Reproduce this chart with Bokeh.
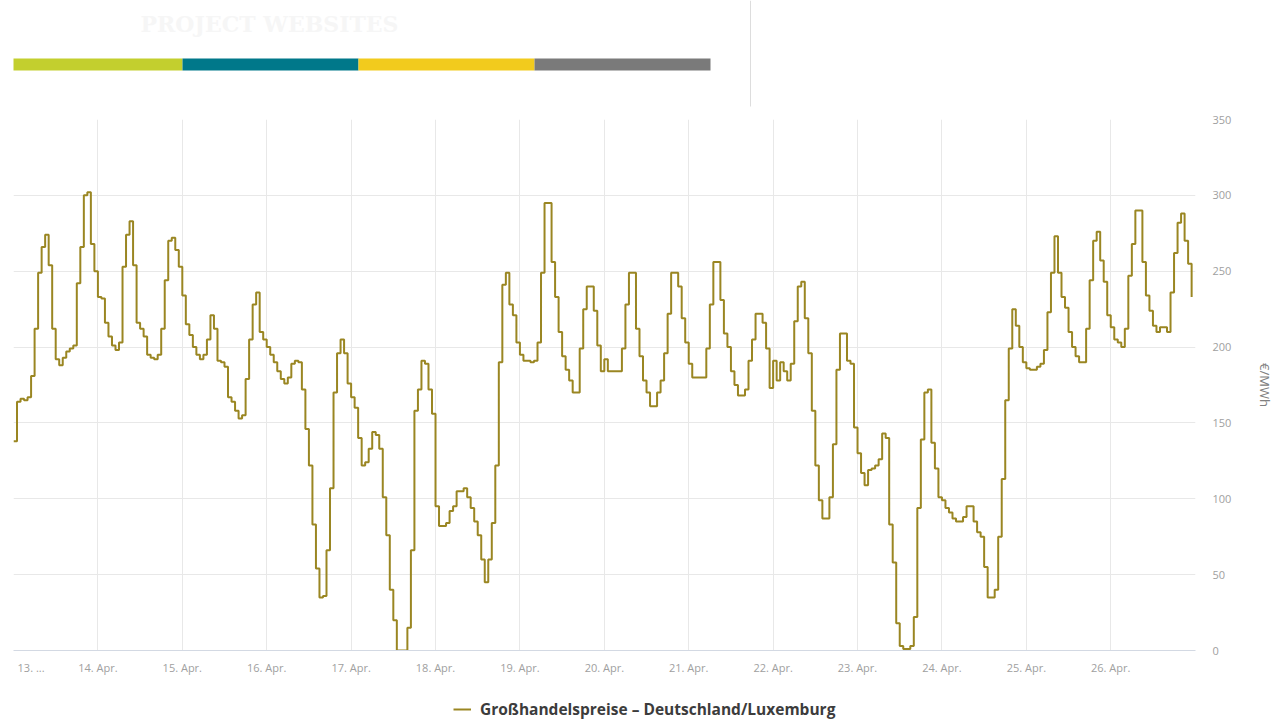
from bokeh.plotting import figure
from bokeh.models import Range1d, FixedTicker, Legend, LegendItem
from bokeh.layouts import column
from bokeh.embed import file_html
from bokeh.resources import INLINE
from bokeh.core.properties import value

# ---------------- data ----------------
day_labels = ["13. ...", "14. Apr.", "15. Apr.", "16. Apr.", "17. Apr.", "18. Apr.", "19. Apr.",
              "20. Apr.", "21. Apr.", "22. Apr.", "23. Apr.", "24. Apr.", "25. Apr.", "26. Apr."]

apr13 = [138, 164, 166, 165, 167, 181, 212, 249, 266, 274, 254, 212, 192, 188, 193, 197, 199, 201, 242, 266, 300, 302, 268, 250]
apr14 = [233, 232, 216, 207, 201, 198, 203, 253, 274, 283, 254, 216, 212, 207, 195, 193, 192, 195, 212, 244, 270, 272, 264, 253]
apr15 = [234, 215, 208, 200, 195, 192, 195, 205, 221, 212, 191, 190, 187, 167, 164, 158, 153, 155, 179, 205, 228, 236, 210, 205]
apr16 = [200, 195, 190, 184, 179, 176, 180, 189, 191, 190, 172, 146, 122, 83, 54, 35, 36, 66, 107, 170, 196, 205, 196, 176]
apr17 = [167, 160, 140, 122, 124, 133, 144, 142, 133, 101, 76, 40, 20, 0, 0, 0, 15, 66, 158, 172, 191, 189, 172, 156]
apr18 = [95, 82, 82, 84, 92, 95, 105, 105, 107, 101, 94, 85, 76, 60, 45, 60, 84, 122, 190, 241, 249, 228, 221, 203]
apr19 = [195, 191, 191, 190, 191, 203, 249, 295, 295, 256, 233, 210, 194, 185, 178, 170, 170, 199, 225, 240, 240, 224, 201, 184]
apr20 = [192, 184, 184, 184, 184, 199, 228, 249, 249, 212, 194, 178, 170, 161, 161, 170, 178, 196, 222, 249, 249, 240, 219, 203]
apr21 = [189, 180, 180, 180, 180, 199, 228, 256, 256, 231, 209, 200, 184, 175, 168, 168, 172, 191, 205, 222, 222, 216, 199, 173]
apr22 = [191, 178, 190, 184, 178, 189, 217, 240, 243, 219, 196, 158, 122, 99, 87, 87, 101, 136, 185, 209, 209, 191, 189, 147]
apr23 = [130, 117, 109, 119, 120, 122, 126, 143, 140, 83, 58, 18, 3, 1, 1, 3, 22, 94, 139, 170, 172, 137, 120, 101]
apr24 = [99, 94, 91, 87, 85, 85, 88, 95, 95, 85, 78, 75, 55, 35, 35, 40, 75, 113, 165, 199, 225, 214, 200, 190]
apr25 = [186, 185, 185, 187, 189, 198, 223, 249, 273, 249, 233, 226, 210, 200, 194, 190, 190, 212, 244, 270, 276, 257, 243, 221]
apr26 = [213, 205, 203, 200, 212, 247, 268, 290, 290, 256, 234, 224, 214, 210, 213, 213, 210, 236, 262, 282, 288, 270, 255, 233]

y_ticks = [0, 50, 100, 150, 200, 250, 300, 350]
series_name = "Großhandelspreise – Deutschland/Luxemburg"
unit_label = "€/MWh"
header_title = "PROJECT WEBSITES"
header_colors = ["#c3cf2e", "#00788a", "#f2cb1d", "#7a7a7a"]

days = [apr13, apr14, apr15, apr16, apr17, apr18, apr19, apr20, apr21, apr22, apr23, apr24, apr25, apr26]
prices = [v for d in days for v in d]
hours = list(range(len(prices)))

# ---------------- layout constants ----------------
W = 1279
FRAME_L, FRAME_R = 13, 1195
HEADER_H = 111
MAIN_TOP, MAIN_FRAME_H, MAIN_BOTTOM = 8, 531, 30
LEG_H = 720 - HEADER_H - (MAIN_TOP + MAIN_FRAME_H + MAIN_BOTTOM)
FONT = "Open Sans"
TICK_COLOR = "#a0a0a0"
GRID_COLOR = "#e8e8e8"
LINE_COLOR = "#9a8622"

# ---------------- header ----------------
header = figure(width=W, height=HEADER_H, x_range=Range1d(FRAME_L, FRAME_R), y_range=Range1d(HEADER_H, 0),
                toolbar_location=None, output_backend="svg", min_border=0,
                x_axis_type=None, y_axis_type=None, outline_line_color=None)
seg_w = 176
lefts = [6 + i * seg_w for i in range(len(header_colors))]
rights = [l + seg_w for l in lefts]
header.quad(left=lefts, right=rights, top=58, bottom=70, color=header_colors, line_color=None)
header.segment(x0=[750], y0=[0], x1=[750], y1=[106], line_color="#dddddd", line_width=1)
header.text(x=[140], y=[23], text=[header_title], text_font=value("DejaVu Serif"),
            text_font_style="bold", text_font_size="22px", text_color="#f6f6f6",
            text_baseline="middle")

# ---------------- main chart ----------------
n_days = len(day_labels)
p = figure(frame_width=FRAME_R - FRAME_L, frame_height=MAIN_FRAME_H,
           x_range=Range1d(0, n_days * 24 + 0.1), y_range=Range1d(y_ticks[0], y_ticks[-1]),
           y_axis_location="right", toolbar_location=None, output_backend="svg",
           min_border_left=FRAME_L, min_border_top=MAIN_TOP, min_border_right=W - FRAME_R,
           min_border_bottom=MAIN_BOTTOM, outline_line_color=None)

r = p.step(hours, prices, mode="after", line_color=LINE_COLOR, line_width=2)

# grids
p.xgrid.ticker = FixedTicker(ticks=[d * 24 for d in range(n_days)])
p.ygrid.ticker = FixedTicker(ticks=y_ticks)
p.xgrid.grid_line_color = GRID_COLOR
p.ygrid.grid_line_color = GRID_COLOR

# x axis
first_pos = 5
x_tick_pos = [first_pos] + [d * 24 for d in range(1, n_days)]
p.xaxis.ticker = FixedTicker(ticks=x_tick_pos)
p.xaxis.major_label_overrides = {pos: lbl for pos, lbl in zip(x_tick_pos, day_labels)}
p.xaxis.axis_line_color = "#d3d9e3"
p.xaxis.major_tick_line_color = None
p.xaxis.major_tick_out = 0
p.xaxis.major_tick_in = 0
p.xaxis.minor_tick_line_color = None
p.xaxis.major_label_text_font = FONT
p.xaxis.major_label_text_font_size = "11px"
p.xaxis.major_label_text_color = TICK_COLOR
p.xaxis.major_label_standoff = 9

# y axis (right)
p.yaxis.ticker = FixedTicker(ticks=y_ticks)
p.yaxis.axis_line_color = None
p.yaxis.major_tick_line_color = None
p.yaxis.major_tick_out = 0
p.yaxis.major_tick_in = 0
p.yaxis.minor_tick_line_color = None
p.yaxis.major_label_text_font = FONT
p.yaxis.major_label_text_font_size = "11px"
p.yaxis.major_label_text_color = TICK_COLOR
p.yaxis.major_label_text_align = "center"
p.yaxis.major_label_standoff = 17
p.yaxis.axis_label = unit_label
p.yaxis.axis_label_text_font = FONT
p.yaxis.axis_label_text_font_size = "13px"
p.yaxis.axis_label_text_font_style = "normal"
p.yaxis.axis_label_text_color = "#808080"
p.yaxis.axis_label_standoff = 22

# ---------------- legend row ----------------
# the series is drawn again here, but above this row's visible range, so that only its legend swatch shows
leg_fig = figure(width=W, height=LEG_H, x_range=Range1d(0, n_days * 24), y_range=Range1d(-2, -1),
                 toolbar_location=None, output_backend="svg", min_border=0,
                 x_axis_type=None, y_axis_type=None, outline_line_color=None)
leg_r = leg_fig.step(hours, prices, mode="after", line_color=LINE_COLOR, line_width=2)
legend = Legend(items=[LegendItem(label=series_name, renderers=[leg_r])],
                location=(440, 0), orientation="horizontal", padding=0, spacing=0, margin=0,
                glyph_width=18, glyph_height=20, label_standoff=9,
                border_line_color=None, background_fill_alpha=0,
                label_text_font=FONT, label_text_font_size="15.5px",
                label_text_font_style="bold", label_text_color="#3c3c3c")
leg_fig.add_layout(legend)

layout = column(header, p, leg_fig, spacing=0)
open("out.html", "w").write(file_html(layout, INLINE))
